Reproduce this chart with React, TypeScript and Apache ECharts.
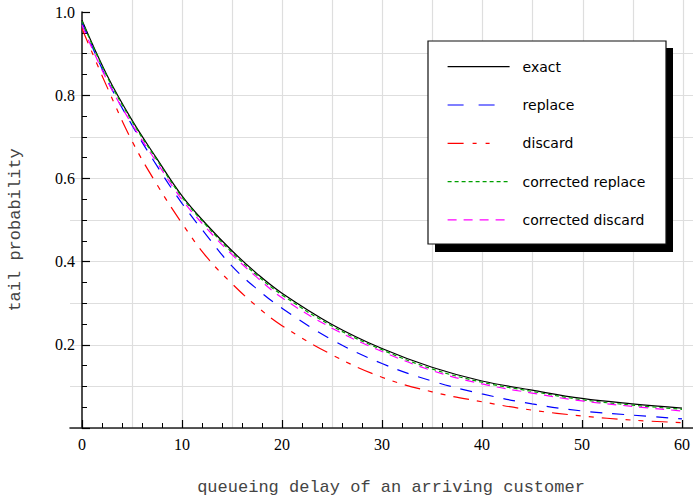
import React, { useEffect, useRef } from "react";
import * as echarts from "echarts";

// queueing delay sample points (x) and tail probabilities for each method
const delays = [0, 2.5, 5, 7.5, 10, 12.5, 15, 17.5, 20, 25, 30, 35, 40, 45, 50, 55, 60];
const exact = [0.98, 0.848, 0.74, 0.647, 0.558, 0.488, 0.426, 0.371, 0.324, 0.249, 0.191, 0.146, 0.113, 0.091, 0.071, 0.058, 0.048];
const replace = [0.975, 0.838, 0.728, 0.63, 0.54, 0.462, 0.389, 0.334, 0.288, 0.212, 0.155, 0.113, 0.082, 0.058, 0.041, 0.031, 0.022];
const discard = [0.96, 0.82, 0.69, 0.585, 0.492, 0.41, 0.347, 0.292, 0.246, 0.176, 0.122, 0.087, 0.063, 0.043, 0.029, 0.019, 0.013];
const correctedReplace = [0.978, 0.845, 0.737, 0.644, 0.555, 0.485, 0.422, 0.367, 0.32, 0.245, 0.188, 0.142, 0.11, 0.088, 0.068, 0.055, 0.045];
const correctedDiscard = [0.968, 0.836, 0.73, 0.638, 0.549, 0.479, 0.417, 0.362, 0.313, 0.24, 0.184, 0.138, 0.106, 0.084, 0.065, 0.052, 0.041];

const seriesNames = ["exact", "replace", "discard", "corrected replace", "corrected discard"];
const xTickLabels = [0, 10, 20, 30, 40, 50, 60];
const yTickLabels = [0.2, 0.4, 0.6, 0.8, 1.0];

const xTitle = "queueing delay of an arriving customer";
const yTitle = "tail probability";

const pair = (ys: number[]) => delays.map((x, i) => [x, ys[i]]);

const styles: Record<string, { color: string; dash: any; legendDash?: any }> = {
  exact: { color: "#000000", dash: "solid" },
  replace: { color: "#0000ff", dash: [12, 10], legendDash: [16, 15] },
  discard: { color: "#ff0000", dash: [16, 8, 5, 8, 5, 8], legendDash: [16, 9, 4, 9, 4, 40] },
  "corrected replace": { color: "#00a000", dash: [4, 3] },
  "corrected discard": { color: "#ff00ff", dash: [9, 7] },
};

const values: Record<string, number[]> = {
  exact,
  replace,
  discard,
  "corrected replace": correctedReplace,
  "corrected discard": correctedDiscard,
};

const tickFont = { fontFamily: "'Liberation Serif', 'DejaVu Serif', serif", fontSize: 16, color: "#000" };
const monoFont = "17px 'Liberation Mono', 'DejaVu Sans Mono', monospace";

function buildOption() {
  return {
    animation: false,
    grid: [
      { left: 82, right: 10, top: 12, bottom: 71 }, // plot area
      { left: 132, right: 10, top: 0, bottom: 71 }, // vertical rules
      { left: 70, right: 0, top: 53.6, bottom: 71 }, // horizontal rules and baseline
    ],
    xAxis: [
      {
        type: "value",
        gridIndex: 0,
        min: 0,
        max: 60,
        interval: 10,
        axisLine: { show: false },
        axisTick: { show: true, inside: true, length: 8, lineStyle: { color: "#000", width: 1.2 } },
        minorTick: { show: true, splitNumber: 5, length: 5, lineStyle: { color: "#000", width: 1 } },
        splitLine: { show: false },
        axisLabel: {
          ...tickFont,
          margin: 8,
          customValues: xTickLabels,
          formatter: (v: number) => String(v),
        },
      },
      {
        type: "value",
        gridIndex: 1,
        min: 5,
        max: 60,
        interval: 5,
        axisLine: { show: false },
        axisTick: { show: false },
        axisLabel: { show: false },
        splitLine: { show: true, lineStyle: { color: "#dedede", width: 1.2 } },
      },
      {
        type: "value",
        gridIndex: 2,
        min: 0,
        max: 1,
        axisLine: { show: true, onZero: false, lineStyle: { color: "#222", width: 1.6 } },
        axisTick: { show: false },
        axisLabel: { show: false },
        splitLine: { show: false },
      },
    ],
    yAxis: [
      {
        type: "value",
        gridIndex: 0,
        min: 0,
        max: 1,
        interval: 0.2,
        axisLine: { show: true, onZero: false, lineStyle: { color: "#111", width: 1.5 } },
        axisTick: { show: true, inside: true, length: 8, lineStyle: { color: "#000", width: 1.2 } },
        minorTick: { show: true, splitNumber: 4, length: 5, lineStyle: { color: "#000", width: 1 } },
        splitLine: { show: false },
        axisLabel: {
          ...tickFont,
          margin: 7,
          formatter: (v: number) => (yTickLabels.some((t) => Math.abs(t - v) < 1e-9) ? v.toFixed(1) : ""),
        },
      },
      {
        type: "value",
        gridIndex: 1,
        min: 0,
        max: 1,
        axisLine: { show: false },
        axisTick: { show: false },
        axisLabel: { show: false },
        splitLine: { show: false },
      },
      {
        type: "value",
        gridIndex: 2,
        min: 0,
        max: 0.9,
        interval: 0.1,
        axisLine: { show: false },
        axisTick: { show: false },
        axisLabel: { show: false },
        splitLine: { show: true, lineStyle: { color: "#dedede", width: 1.2 } },
      },
    ],
    legend: {
      orient: "vertical",
      left: 447,
      top: 59.7,
      padding: 0,
      itemWidth: 62,
      itemHeight: 14,
      itemGap: 24.3,
      z: 20,
      itemStyle: { opacity: 0 },
      textStyle: { fontFamily: "'DejaVu Sans', sans-serif", fontSize: 14, color: "#000", padding: [0, 0, 0, 8] },
      data: seriesNames.map((name) => ({
        name,
        itemStyle: { opacity: 0 },
        lineStyle: {
          type: styles[name].legendDash ?? styles[name].dash,
          width: 1.2,
          color: styles[name].color,
        },
      })),
    },
    graphic: [
      {
        type: "rect",
        z: 10,
        shape: { x: 435, y: 48, width: 238, height: 204 },
        style: { fill: "#000" },
      },
      {
        type: "rect",
        z: 11,
        shape: { x: 428, y: 41, width: 238, height: 203 },
        style: { fill: "#fff", stroke: "#111", lineWidth: 1.2 },
      },
      {
        type: "text",
        z: 12,
        x: 391,
        y: 487,
        style: { text: xTitle, font: monoFont, fill: "#444", align: "center", verticalAlign: "middle" },
      },
      {
        type: "text",
        z: 12,
        x: 15,
        y: 230,
        rotation: Math.PI / 2,
        style: { text: yTitle, font: monoFont, fill: "#444", align: "center", verticalAlign: "middle" },
      },
    ],
    series: seriesNames.map((name) => ({
      name,
      type: "line",
      xAxisIndex: 0,
      yAxisIndex: 0,
      data: pair(values[name]),
      symbol: "none",
      smooth: 0.4,
      lineStyle: { color: styles[name].color, width: 1.2, type: styles[name].dash },
      itemStyle: { color: styles[name].color },
      emphasis: { disabled: true },
    })),
  };
}

export default function App() {
  const ref = useRef<HTMLDivElement>(null);
  useEffect(() => {
    if (!ref.current) return;
    const chart = echarts.init(ref.current, null, { renderer: "svg" });
    chart.setOption(buildOption() as any);
    return () => chart.dispose();
  }, []);
  return (
    <div
      ref={ref}
      style={{ position: "fixed", left: 0, top: 0, width: 693, height: 499, background: "#fff" }}
    />
  );
}
